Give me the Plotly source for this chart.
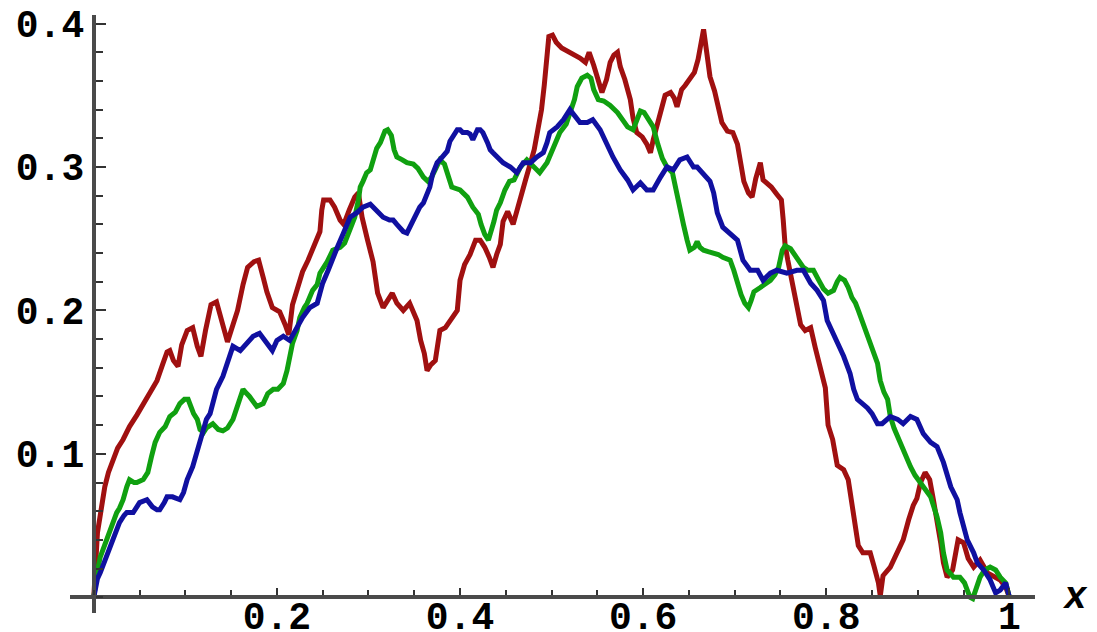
import plotly.graph_objects as go

# ---- data (x in [0,1], y values) ----
red_x = [0, 0.002, 0.004, 0.008, 0.012, 0.016, 0.021, 0.026, 0.032, 0.039, 0.047, 0.054, 0.061, 0.069,
         0.075, 0.080, 0.083, 0.087, 0.092, 0.096, 0.102, 0.108, 0.113, 0.117, 0.122, 0.128, 0.134, 0.140,
         0.146, 0.152, 0.157, 0.163, 0.168, 0.175, 0.180, 0.185, 0.189, 0.195, 0.203, 0.209, 0.213, 0.217,
         0.222, 0.228, 0.234, 0.240, 0.247, 0.249, 0.251, 0.258, 0.263, 0.269, 0.273, 0.279, 0.285, 0.289,
         0.293, 0.299, 0.305, 0.310, 0.316, 0.321, 0.326, 0.331, 0.338, 0.345, 0.353, 0.357, 0.361, 0.364,
         0.368, 0.373, 0.378, 0.384, 0.389, 0.397, 0.400, 0.405, 0.411, 0.417, 0.422, 0.427, 0.432, 0.436,
         0.440, 0.444, 0.447, 0.452, 0.458, 0.462, 0.467, 0.472, 0.477, 0.481, 0.485, 0.489, 0.492, 0.495,
         0.497, 0.501, 0.505, 0.511, 0.520, 0.526, 0.531, 0.537, 0.541, 0.546, 0.551, 0.555, 0.560, 0.564,
         0.568, 0.572, 0.575, 0.580, 0.586, 0.589, 0.593, 0.599, 0.604, 0.608, 0.611, 0.615, 0.620, 0.624,
         0.630, 0.634, 0.637, 0.642, 0.646, 0.651, 0.656, 0.660, 0.663, 0.666, 0.669, 0.673, 0.678, 0.682,
         0.686, 0.692, 0.698, 0.703, 0.707, 0.710, 0.715, 0.719, 0.723, 0.728, 0.731, 0.736, 0.740, 0.746,
         0.751, 0.753, 0.755, 0.758, 0.763, 0.768, 0.772, 0.777, 0.783, 0.788, 0.793, 0.799, 0.802, 0.807,
         0.812, 0.819, 0.824, 0.830, 0.835, 0.840, 0.848, 0.852, 0.857, 0.859, 0.862, 0.870, 0.878, 0.884,
         0.890, 0.895, 0.899, 0.903, 0.908, 0.913, 0.917, 0.921, 0.925, 0.928, 0.932, 0.938, 0.944, 0.950,
         0.955, 0.961, 0.968, 0.976, 0.983, 0.990, 0.996, 1.0]
red_y = [0, 0.026, 0.045, 0.061, 0.077, 0.087, 0.096, 0.104, 0.110, 0.119, 0.127, 0.135, 0.143, 0.151,
         0.162, 0.171, 0.172, 0.165, 0.161, 0.176, 0.186, 0.188, 0.175, 0.168, 0.186, 0.204, 0.206, 0.193,
         0.178, 0.190, 0.200, 0.218, 0.230, 0.234, 0.235, 0.223, 0.213, 0.202, 0.199, 0.190, 0.183, 0.204,
         0.214, 0.227, 0.235, 0.244, 0.255, 0.270, 0.277, 0.277, 0.272, 0.263, 0.260, 0.270, 0.279, 0.282,
         0.265, 0.249, 0.234, 0.212, 0.202, 0.207, 0.212, 0.205, 0.200, 0.205, 0.193, 0.179, 0.170, 0.158,
         0.162, 0.165, 0.186, 0.188, 0.193, 0.200, 0.221, 0.232, 0.239, 0.249, 0.249, 0.244, 0.237, 0.230,
         0.239, 0.246, 0.262, 0.269, 0.260, 0.270, 0.281, 0.292, 0.303, 0.312, 0.326, 0.340, 0.357, 0.382,
         0.391, 0.392, 0.387, 0.383, 0.380, 0.378, 0.376, 0.373, 0.380, 0.371, 0.361, 0.352, 0.361, 0.373,
         0.378, 0.380, 0.370, 0.361, 0.347, 0.334, 0.324, 0.321, 0.316, 0.310, 0.319, 0.329, 0.340, 0.350,
         0.352, 0.348, 0.342, 0.354, 0.357, 0.361, 0.366, 0.375, 0.385, 0.396, 0.382, 0.363, 0.353, 0.343,
         0.331, 0.325, 0.324, 0.316, 0.302, 0.290, 0.282, 0.279, 0.292, 0.303, 0.291, 0.288, 0.286, 0.281,
         0.277, 0.263, 0.246, 0.235, 0.219, 0.207, 0.190, 0.186, 0.188, 0.174, 0.161, 0.146, 0.120, 0.110,
         0.092, 0.089, 0.082, 0.059, 0.036, 0.031, 0.031, 0.022, 0.010, 0.001, 0.015, 0.021, 0.031, 0.040,
         0.054, 0.064, 0.069, 0.080, 0.087, 0.082, 0.068, 0.054, 0.038, 0.024, 0.014, 0.019, 0.040, 0.038,
         0.027, 0.021, 0.026, 0.017, 0.014, 0.012, 0.007, 0.0]

green_x = [0, 0.003, 0.007, 0.011, 0.014, 0.017, 0.021, 0.025, 0.028, 0.032, 0.036, 0.039, 0.044, 0.047,
           0.054, 0.059, 0.063, 0.067, 0.072, 0.078, 0.083, 0.089, 0.094, 0.099, 0.103, 0.106, 0.109, 0.113,
           0.116, 0.120, 0.123, 0.130, 0.136, 0.141, 0.146, 0.152, 0.156, 0.160, 0.163, 0.167, 0.170, 0.178,
           0.185, 0.190, 0.196, 0.201, 0.207, 0.211, 0.214, 0.217, 0.222, 0.225, 0.230, 0.233, 0.239, 0.244,
           0.247, 0.255, 0.261, 0.269, 0.274, 0.280, 0.285, 0.289, 0.291, 0.294, 0.298, 0.302, 0.305, 0.309,
           0.313, 0.318, 0.321, 0.325, 0.328, 0.331, 0.337, 0.342, 0.349, 0.354, 0.360, 0.365, 0.369, 0.375,
           0.378, 0.383, 0.387, 0.391, 0.400, 0.408, 0.414, 0.420, 0.423, 0.427, 0.431, 0.434, 0.437, 0.440,
           0.444, 0.449, 0.454, 0.459, 0.466, 0.473, 0.480, 0.487, 0.495, 0.502, 0.509, 0.516, 0.520, 0.525,
           0.528, 0.533, 0.539, 0.543, 0.546, 0.551, 0.557, 0.564, 0.572, 0.577, 0.583, 0.589, 0.593, 0.597,
           0.601, 0.605, 0.611, 0.616, 0.621, 0.626, 0.632, 0.636, 0.640, 0.644, 0.648, 0.651, 0.656, 0.659,
           0.662, 0.666, 0.671, 0.677, 0.682, 0.687, 0.695, 0.699, 0.703, 0.707, 0.711, 0.715, 0.718, 0.721,
           0.728, 0.733, 0.739, 0.744, 0.748, 0.752, 0.755, 0.761, 0.768, 0.775, 0.780, 0.786, 0.791, 0.797,
           0.802, 0.808, 0.812, 0.815, 0.820, 0.824, 0.828, 0.832, 0.835, 0.839, 0.844, 0.848, 0.852, 0.856,
           0.859, 0.863, 0.867, 0.870, 0.874, 0.878, 0.884, 0.892, 0.897, 0.903, 0.908, 0.914, 0.918, 0.921,
           0.925, 0.928, 0.932, 0.939, 0.946, 0.951, 0.954, 0.957, 0.960, 0.964, 0.968, 0.973, 0.979, 0.985,
           0.990, 0.996, 1.0]
green_y = [0, 0.015, 0.028, 0.035, 0.040, 0.047, 0.054, 0.059, 0.062, 0.068, 0.077, 0.082, 0.080, 0.080,
           0.082, 0.087, 0.098, 0.108, 0.115, 0.119, 0.126, 0.129, 0.135, 0.138, 0.138, 0.133, 0.128, 0.124,
           0.117, 0.115, 0.118, 0.121, 0.117, 0.116, 0.118, 0.124, 0.132, 0.138, 0.145, 0.142, 0.140, 0.133,
           0.135, 0.142, 0.145, 0.145, 0.149, 0.158, 0.168, 0.177, 0.186, 0.195, 0.202, 0.205, 0.214, 0.218,
           0.226, 0.234, 0.242, 0.244, 0.247, 0.256, 0.265, 0.277, 0.286, 0.290, 0.296, 0.298, 0.305, 0.313,
           0.317, 0.325, 0.326, 0.322, 0.312, 0.307, 0.305, 0.303, 0.302, 0.299, 0.293, 0.290, 0.293, 0.302,
           0.305, 0.302, 0.295, 0.286, 0.284, 0.279, 0.272, 0.267, 0.260, 0.253, 0.249, 0.255, 0.262, 0.270,
           0.275, 0.284, 0.290, 0.291, 0.300, 0.305, 0.300, 0.296, 0.303, 0.314, 0.324, 0.330, 0.338, 0.347,
           0.356, 0.362, 0.364, 0.362, 0.354, 0.347, 0.346, 0.343, 0.338, 0.333, 0.328, 0.326, 0.333, 0.339,
           0.338, 0.334, 0.328, 0.316, 0.306, 0.300, 0.296, 0.284, 0.270, 0.260, 0.249, 0.242, 0.244, 0.248,
           0.244, 0.242, 0.241, 0.240, 0.239, 0.237, 0.235, 0.228, 0.219, 0.211, 0.205, 0.202, 0.207, 0.213,
           0.216, 0.218, 0.221, 0.225, 0.230, 0.242, 0.245, 0.243, 0.237, 0.230, 0.228, 0.228, 0.222, 0.215,
           0.212, 0.214, 0.220, 0.223, 0.221, 0.216, 0.209, 0.205, 0.200, 0.193, 0.186, 0.179, 0.172, 0.163,
           0.151, 0.143, 0.138, 0.126, 0.118, 0.112, 0.101, 0.091, 0.085, 0.080, 0.075, 0.070, 0.062, 0.056,
           0.045, 0.031, 0.019, 0.014, 0.014, 0.010, 0.005, 0.000, -0.001, 0.007, 0.014, 0.019, 0.021, 0.019,
           0.014, 0.010, 0.0]

blue_x = [0, 0.002, 0.004, 0.007, 0.011, 0.014, 0.017, 0.021, 0.025, 0.028, 0.033, 0.036, 0.043, 0.047,
          0.050, 0.058, 0.064, 0.069, 0.072, 0.077, 0.080, 0.086, 0.094, 0.098, 0.102, 0.108, 0.113, 0.116,
          0.119, 0.123, 0.127, 0.131, 0.134, 0.141, 0.145, 0.149, 0.152, 0.160, 0.167, 0.174, 0.181, 0.189,
          0.195, 0.200, 0.207, 0.214, 0.222, 0.228, 0.236, 0.244, 0.247, 0.250, 0.256, 0.261, 0.266, 0.272,
          0.277, 0.280, 0.287, 0.294, 0.302, 0.309, 0.316, 0.323, 0.327, 0.331, 0.338, 0.342, 0.345, 0.349,
          0.353, 0.356, 0.360, 0.364, 0.367, 0.370, 0.375, 0.378, 0.381, 0.386, 0.389, 0.392, 0.397, 0.400,
          0.403, 0.408, 0.411, 0.414, 0.419, 0.422, 0.425, 0.430, 0.433, 0.436, 0.440, 0.444, 0.447, 0.455,
          0.462, 0.469, 0.477, 0.484, 0.491, 0.495, 0.498, 0.506, 0.513, 0.520, 0.526, 0.531, 0.539, 0.545,
          0.553, 0.561, 0.567, 0.575, 0.583, 0.589, 0.597, 0.604, 0.611, 0.619, 0.626, 0.633, 0.640, 0.648,
          0.655, 0.659, 0.666, 0.673, 0.677, 0.681, 0.687, 0.695, 0.703, 0.709, 0.717, 0.725, 0.731, 0.739,
          0.746, 0.757, 0.768, 0.775, 0.783, 0.790, 0.797, 0.801, 0.808, 0.815, 0.819, 0.826, 0.830, 0.834,
          0.840, 0.845, 0.850, 0.856, 0.861, 0.870, 0.878, 0.884, 0.892, 0.899, 0.906, 0.914, 0.921, 0.928,
          0.936, 0.943, 0.946, 0.950, 0.954, 0.961, 0.965, 0.972, 0.979, 0.985, 0.990, 0.996, 1.0]
blue_y = [0, 0.008, 0.013, 0.017, 0.024, 0.028, 0.034, 0.040, 0.047, 0.052, 0.057, 0.059, 0.059, 0.063,
          0.066, 0.068, 0.063, 0.061, 0.061, 0.066, 0.070, 0.070, 0.068, 0.073, 0.082, 0.091, 0.103, 0.108,
          0.117, 0.124, 0.128, 0.138, 0.145, 0.154, 0.162, 0.168, 0.175, 0.172, 0.177, 0.182, 0.184, 0.177,
          0.172, 0.179, 0.182, 0.179, 0.188, 0.195, 0.202, 0.205, 0.212, 0.219, 0.228, 0.237, 0.244, 0.253,
          0.260, 0.265, 0.268, 0.272, 0.274, 0.270, 0.265, 0.263, 0.263, 0.260, 0.255, 0.254, 0.258, 0.262,
          0.268, 0.272, 0.275, 0.282, 0.286, 0.295, 0.303, 0.305, 0.307, 0.311, 0.318, 0.321, 0.326, 0.326,
          0.324, 0.324, 0.323, 0.319, 0.326, 0.326, 0.324, 0.317, 0.312, 0.310, 0.307, 0.305, 0.303, 0.300,
          0.296, 0.303, 0.303, 0.307, 0.310, 0.317, 0.324, 0.328, 0.333, 0.340, 0.335, 0.331, 0.331, 0.333,
          0.326, 0.314, 0.307, 0.298, 0.291, 0.284, 0.289, 0.284, 0.284, 0.293, 0.300, 0.298, 0.305, 0.307,
          0.300, 0.300, 0.295, 0.290, 0.282, 0.268, 0.258, 0.254, 0.249, 0.235, 0.228, 0.228, 0.221, 0.226,
          0.228, 0.226, 0.228, 0.228, 0.219, 0.214, 0.207, 0.193, 0.184, 0.175, 0.168, 0.156, 0.145, 0.138,
          0.135, 0.132, 0.128, 0.121, 0.121, 0.126, 0.124, 0.121, 0.126, 0.124, 0.114, 0.108, 0.105, 0.094,
          0.077, 0.068, 0.059, 0.049, 0.040, 0.031, 0.024, 0.019, 0.012, 0.003, 0.005, 0.010, 0.0]

x_tickvals = [0.2, 0.4, 0.6, 0.8, 1.0]
x_ticktext = ["0.2", "0.4", "0.6", "0.8", "1"]
y_tickvals = [0.1, 0.2, 0.3, 0.4]
y_ticktext = ["0.1", "0.2", "0.3", "0.4"]

series = [
    ("red", red_x, red_y, "#a01010"),
    ("green", green_x, green_y, "#10a010"),
    ("blue", blue_x, blue_y, "#1010a0"),
]

fig = go.Figure()
for name, xs, ys, col in series:
    fig.add_trace(go.Scatter(x=xs, y=ys, mode="lines", name=name,
                             line=dict(color=col, width=5)))

XR = [-0.026, 1.028]
YR = [-0.011, 0.406]
axis_col = "#4a4a4a"
tickfont = dict(family="Liberation Mono", size=38, color="#000000", weight="bold")

fig.update_layout(
    width=1097, height=632,
    margin=dict(l=70, r=62, t=15, b=19, autoexpand=False),
    paper_bgcolor="white", plot_bgcolor="white",
    showlegend=False,
    xaxis=dict(
        range=XR, anchor="free", position=(0 - YR[0]) / (YR[1] - YR[0]),
        showgrid=False, zeroline=False, showline=True, linecolor=axis_col, linewidth=4,
        ticks="inside", ticklen=7, tickwidth=2, tickcolor="#333333",
        tickvals=x_tickvals, ticktext=x_ticktext,
        tickfont=tickfont, ticklabelstandoff=-16,
        minor=dict(ticks="inside", ticklen=5, tickwidth=2, tickcolor="#333333",
                   dtick=0.05, tick0=0, showgrid=False),
        automargin=False,
    ),
    yaxis=dict(
        range=YR, anchor="free", position=(0 - XR[0]) / (XR[1] - XR[0]),
        showgrid=False, zeroline=False, showline=True, linecolor=axis_col, linewidth=4,
        ticks="inside", ticklen=10, tickwidth=2, tickcolor="#333333",
        tickvals=y_tickvals, ticktext=y_ticktext,
        tickfont=tickfont, ticklabelstandoff=0,
        minor=dict(ticks="inside", ticklen=7, tickwidth=2, tickcolor="#333333",
                   dtick=0.02, tick0=0, showgrid=False),
        automargin=False,
    ),
)

fig.add_annotation(
    text="<b><i>x</i></b>", xref="paper", yref="y",
    x=(1.072 - XR[0]) / (XR[1] - XR[0]), y=0,
    showarrow=False, xanchor="center", yanchor="middle",
    font=dict(family="Liberation Mono", size=38, color="#000000"),
)

fig.write_html("out.html", config={"displayModeBar": False},
               post_script="document.body.style.margin='0px';document.body.style.overflow='hidden';")
